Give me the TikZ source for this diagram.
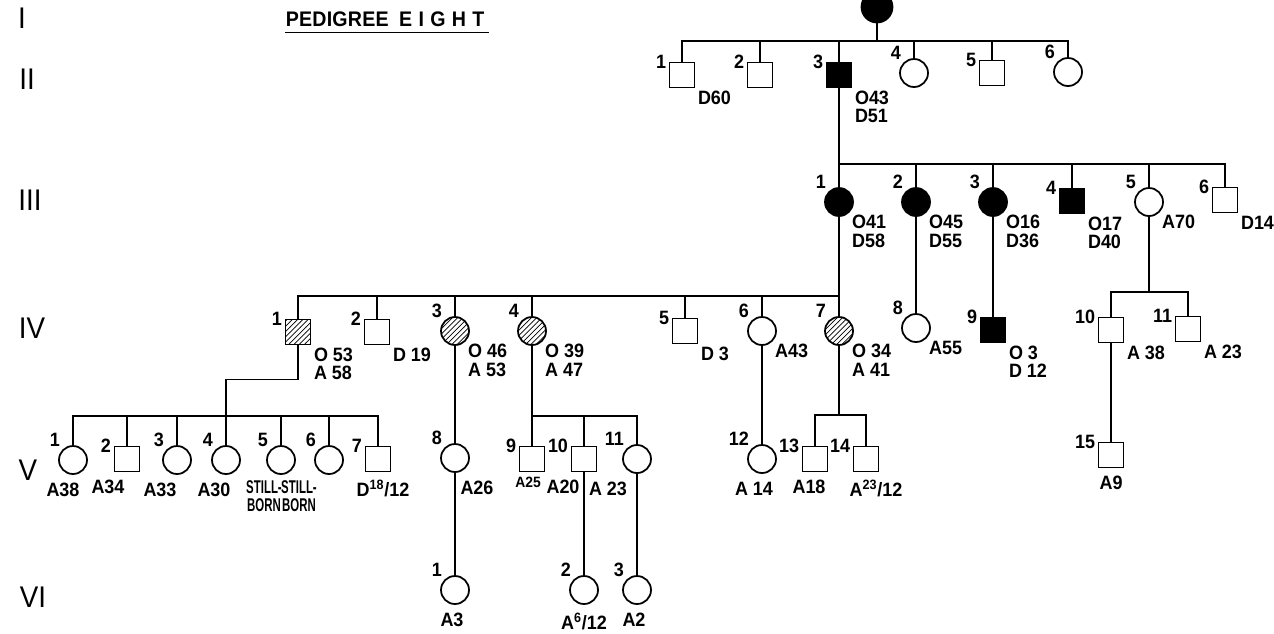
\documentclass[tikz,border=0pt]{standalone}
\usepackage{fontspec}
\setmainfont{Liberation Sans}[FakeStretch=0.93]
\newfontfamily\narrowfont{Liberation Sans}[FakeStretch=0.62]
\usetikzlibrary{patterns}

\begin{document}
\begin{tikzpicture}[x=0.02cm, y=-0.02cm, line width=1pt,
    every node/.style={font=\fontsize{11}{10.5}\selectfont\bfseries},
    every label/.style={inner sep=1pt},
    male/.style={draw, rectangle, minimum size=0.5cm, inner sep=0pt},
    female/.style={draw, circle, minimum size=0.56cm, inner sep=0pt},
    affected/.style={fill=black},
    carrier/.style={pattern=north east lines},
    mnum/.style={label={[anchor=east]north west:#1}},
    fnum/.style={label={[anchor=south east]north west:#1}},
    note/.style={label={[anchor=north west, align=left]south east:#1}},
    bnote/.style 2 args={label={[xshift=#1, yshift=-3pt, align=center]below:#2}},
    still/.style={font=\narrowfont\fontsize{10.5}{10}\selectfont\bfseries},
    gen/.style={font=\fontsize{17}{17}\selectfont},
    thickline/.style={line width=1.5pt}]
  \useasboundingbox (0,0) rectangle (1274,633);

  % generation numbers
  \node[gen] (gI) at (22,18) {I};
  \node[gen] (gII) at (27,79) {II};
  \node[gen] (gIII) at (30,200) {III};
  \node[gen] (gIV) at (32,328) {IV};
  \node[gen] (gV) at (28,470) {V};
  \node[gen] (gVI) at (33,597) {VI};

  \node[anchor=west, inner sep=0pt, font=\fontsize{12}{12}\selectfont\bfseries] (title) at (285,19)
    {{\addfontfeature{LetterSpace=1}PEDIGREE}\hspace{0.5em}{\addfontfeature{LetterSpace=30}EIGHT}};
  \draw ([yshift=-3pt]title.south west) -- ([yshift=-3pt,xshift=2pt]title.south east);

  % I
  \node[female, affected, minimum size=0.62cm] (i1) at (877,7) {};

  % II
  \node[male, mnum=1, note=D60] (ii1) at (682,75) {};
  \node[male, mnum=2] (ii2) at (760,75) {};
  \node[male, affected, mnum=3, note={O43\\D51}] (ii3) at (839,75) {};
  \node[female, fnum=4] (ii4) at (914,73) {};
  \node[male, mnum=5] (ii5) at (992,73) {};
  \node[female, fnum=6] (ii6) at (1068,72) {};

  \coordinate (s2) at (877,41);
  \draw (i1) -- (s2);
  \foreach \c in {ii1,ii2,ii3,ii4,ii5,ii6}
    \draw (\c.north) |- (s2);

  % III
  \node[female, affected, fnum=1, note={O41\\D58}] (iii1) at (839,202) {};
  \node[female, affected, fnum=2, note={O45\\D55}] (iii2) at (916,202) {};
  \node[female, affected, fnum=3, note={O16\\D36}] (iii3) at (993,202) {};
  \node[male, affected, mnum=4, note={O17\\D40}] (iii4) at (1072,201) {};
  \node[female, fnum=5, note=A70] (iii5) at (1149,202) {};
  \node[male, mnum=6, note=D14] (iii6) at (1225,200) {};

  \coordinate (s3) at (839,164);
  \draw[thickline] (ii3) -- (iii1);
  \foreach \c in {iii2,iii3,iii4,iii5,iii6}
    \draw (\c.north) |- (s3);

  % IV
  \node[male, carrier, mnum=1, note={O 53\\A 58}] (iv1) at (298,332) {};
  \node[male, mnum=2, note={D 19}] (iv2) at (377,332) {};
  \node[female, carrier, fnum=3, note={O 46\\A 53}] (iv3) at (455,331) {};
  \node[female, carrier, fnum=4, note={O 39\\A 47}] (iv4) at (532,331) {};
  \node[male, mnum=5, note={D 3}] (iv5) at (685,331) {};
  \node[female, fnum=6, note=A43] (iv6) at (762,331) {};
  \node[female, carrier, fnum=7, note={O 34\\A 41}] (iv7) at (839,331) {};
  \node[female, fnum=8, note=A55] (iv8) at (916,328) {};
  \node[male, affected, mnum=9, note={O 3\\D 12}] (iv9) at (993,330) {};
  \node[male, mnum=10, note={A 38}] (iv10) at (1111,330) {};
  \node[male, mnum=11, note={A 23}] (iv11) at (1188,329) {};

  \coordinate (s4) at (839,296);
  \draw (iii1) -- (iv7);
  \foreach \c in {iv1,iv2,iv3,iv4,iv5,iv6}
    \draw (\c.north) |- (s4);
  \draw (iii2) -- (iv8);
  \draw (iii3) -- (iv9);
  \coordinate (s4b) at (1149,292);
  \draw (iii5) -- (s4b);
  \draw (iv10.north) |- (s4b);
  \draw (iv11.north) |- (s4b);

  % V
  \node[female, fnum=1, bnote={-0.2cm}{A38}] (v1) at (73,460) {};
  \node[male, mnum=2, bnote={-0.38cm}{A34}] (v2) at (127,459) {};
  \node[female, fnum=3, bnote={-0.34cm}{A33}] (v3) at (177,460) {};
  \node[female, fnum=4, bnote={-0.24cm}{A30}] (v4) at (226,460) {};
  \node[female, fnum=5, label={[still, xshift=-0.34cm, yshift=-2pt, align=center]below:STILL-\\BORN}] (v5) at (281,460) {};
  \node[female, fnum=6, label={[still, xshift=-0.6cm, yshift=-2pt, align=center]below:STILL-\\BORN}] (v6) at (329,460) {};
  \node[male, mnum=7, bnote={0.1cm}{D\textsuperscript{18}/12}] (v7) at (378,459) {};
  \node[female, fnum=8, bnote={0.44cm}{A26}] (v8) at (455,458) {};
  \node[male, mnum=9, label={[xshift=-0.08cm, yshift=-1pt, font=\fontsize{8.5}{8.5}\selectfont\bfseries]below:A25}] (v9) at (532,459) {};
  \node[male, mnum=10, bnote={-0.42cm}{A20}] (v10) at (584,459) {};
  \node[female, fnum=11, bnote={-0.58cm}{A 23}] (v11) at (637,459) {};
  \node[female, fnum=12, bnote={-0.16cm}{A 14}] (v12) at (762,459) {};
  \node[male, mnum=13, bnote={-0.12cm}{A18}] (v13) at (815,459) {};
  \node[male, mnum=14, bnote={0.2cm}{A\textsuperscript{23}/12}] (v14) at (866,459) {};
  \node[male, mnum=15, bnote={0cm}{A9}] (v15) at (1111,455) {};

  \coordinate (s5a) at (226,416);
  \draw (iv1.south) -- ++(0,34) -| (s5a);
  \draw (s5a) -- (v4);
  \foreach \c in {v1,v2,v3,v5,v6,v7}
    \draw (\c.north) |- (s5a);
  \draw (iv3) -- (v8);
  \coordinate (s5b) at (532,416);
  \draw (iv4) -- (v9);
  \draw (v10.north) |- (s5b);
  \draw (v11.north) |- (s5b);
  \draw (iv6) -- (v12);
  \coordinate (s5c) at (839,415);
  \draw (iv7) -- (s5c);
  \draw (v13.north) |- (s5c);
  \draw (v14.north) |- (s5c);
  \draw (iv10) -- (v15);

  % VI
  \node[female, fnum=1, bnote={-0.06cm}{A3}] (vi1) at (455,590) {};
  \node[female, fnum=2, bnote={0cm}{A\textsuperscript{6}/12}] (vi2) at (584,590) {};
  \node[female, fnum=3, bnote={-0.06cm}{A2}] (vi3) at (637,590) {};

  \draw (v8) -- (vi1);
  \draw (v10) -- (vi2);
  \draw (v11) -- (vi3);
\end{tikzpicture}
\end{document}
